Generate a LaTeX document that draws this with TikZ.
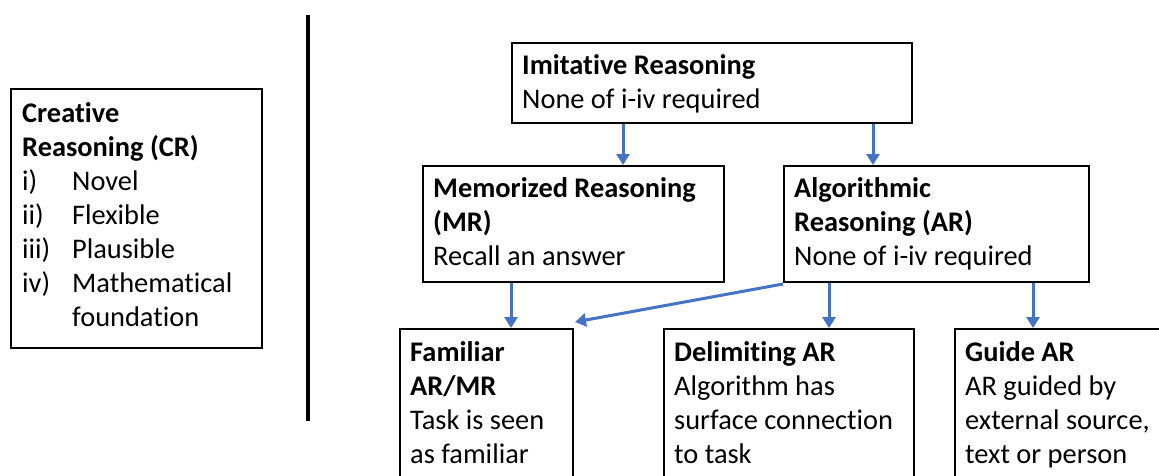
\documentclass[tikz,border=0pt]{standalone}
\usepackage{fontspec}
\setmainfont{Carlito}[Ligatures=NoCommon]
\usetikzlibrary{arrows.meta}
\definecolor{arrowblue}{HTML}{4472C4}
\tikzset{
  box/.style={draw=black, line width=2pt, inner sep=0pt, anchor=north west},
  boxtext/.style={anchor=base west, inner sep=0pt, font=\fontsize{28.4}{34}\selectfont},
  arr/.style={draw=arrowblue, line width=3pt, -{Triangle[length=11pt,width=13pt]}},
  sep/.style={draw=black, line width=4pt},
}
\newcommand{\lbl}[1]{\makebox[50pt][l]{#1}}
\begin{document}
\begin{tikzpicture}[x=1pt,y=-1pt]
\useasboundingbox (0,0) rectangle (1159,475);
\clip (0,0) rectangle (1159,475);
% boxes
\node[box, minimum width=251pt, minimum height=259pt] (cr) at (10,88) {};
\node[box, minimum width=400pt, minimum height=80pt] (imit) at (511,42) {};
\node[box, minimum width=301pt, minimum height=116pt] (mr) at (422,165) {};
\node[box, minimum width=305pt, minimum height=116pt] (ar) at (783,165) {};
\node[box, minimum width=173pt, minimum height=200pt] (fam) at (399,328) {};
\node[box, minimum width=250pt, minimum height=200pt] (del) at (663,328) {};
\node[box, minimum width=260pt, minimum height=200pt] (guide) at (954,328) {};
% texts
\node[boxtext] (crt) at ([shift={(12,34)}]cr.north west) {\parbox[t]{245pt}{\raggedright
  \textbf{Creative}\\
  \textbf{Reasoning (CR)}\\
  \lbl{i)}Novel\\
  \lbl{ii)}Flexible\\
  \lbl{iii)}Plausible\\
  \lbl{iv)}Mathematical\\
  \hspace*{50pt}foundation}};
\node[boxtext] (imitt) at ([shift={(11,32)}]imit.north west) {\parbox[t]{380pt}{\raggedright
  \textbf{Imitative Reasoning}\\
  None of i-iv required}};
\node[boxtext] (mrt) at ([shift={(11,32)}]mr.north west) {\parbox[t]{290pt}{\raggedright
  \textbf{Memorized Reasoning}\\
  \textbf{(MR)}\\
  Recall an answer}};
\node[boxtext] (art) at ([shift={(11,32)}]ar.north west) {\parbox[t]{290pt}{\raggedright
  \textbf{Algorithmic}\\
  \textbf{Reasoning (AR)}\\
  None of i-iv required}};
\node[boxtext] (famt) at ([shift={(11,33)}]fam.north west) {\parbox[t]{170pt}{\raggedright
  \textbf{Familiar}\\
  \textbf{AR/MR}\\
  Task is seen\\
  as familiar}};
\node[boxtext] (delt) at ([shift={(11,33)}]del.north west) {\parbox[t]{240pt}{\raggedright
  \textbf{Delimiting AR}\\
  Algorithm has\\
  surface connection\\
  to task}};
\node[boxtext] (guidet) at ([shift={(11,33)}]guide.north west) {\parbox[t]{250pt}{\raggedright
  \textbf{Guide AR}\\
  AR guided by\\
  external source,\\
  text or person}};
% separator
\coordinate (septop) at (308,15);
\coordinate (sepbot) at (308,421);
\draw[sep] (septop) -- (sepbot);
% arrow x positions
\coordinate (xa) at (623,0);
\coordinate (xb) at (873,0);
\coordinate (xc) at (511,0);
\coordinate (xd) at (829,0);
\coordinate (xe) at (1033,0);
\coordinate (famtip) at (575,322);
% arrows
\draw[arr] (imit.south -| xa) -- (mr.north -| xa);
\draw[arr] (imit.south -| xb) -- (ar.north -| xb);
\draw[arr] (mr.south -| xc) -- (fam.north -| xc);
\draw[arr] ([shift={(0,1)}]ar.south west) -- (famtip);
\draw[arr] (ar.south -| xd) -- (del.north -| xd);
\draw[arr] (ar.south -| xe) -- (guide.north -| xe);
\end{tikzpicture}
\end{document}
